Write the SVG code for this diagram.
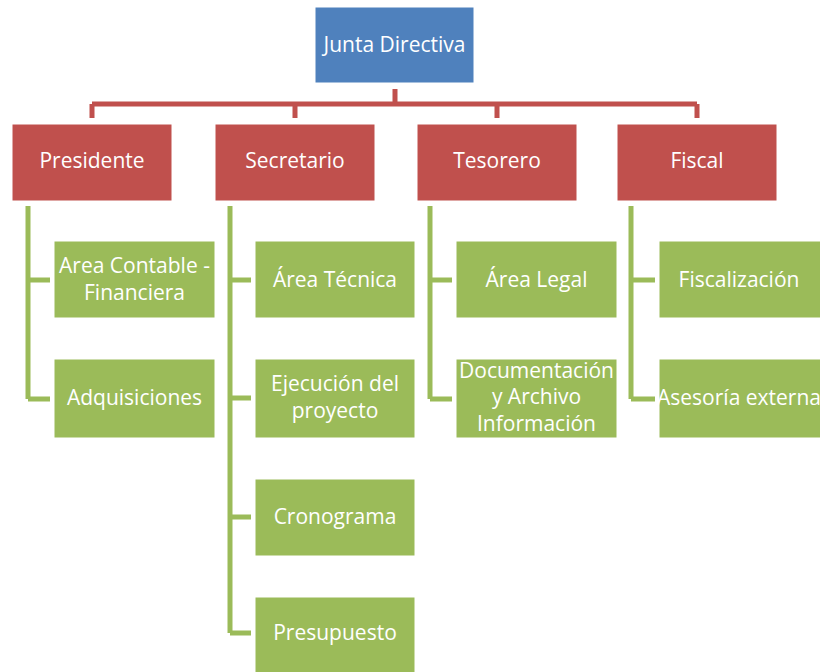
<svg xmlns="http://www.w3.org/2000/svg" width="820" height="672" viewBox="0 0 820 672">
<style>
.b{fill:#4F81BD;stroke:#fff;stroke-width:1}
.r{fill:#C0504D;stroke:#fff;stroke-width:1}
.g{fill:#9BBB59;stroke:#fff;stroke-width:1}
text{font-family:"Open Sans","Liberation Sans",sans-serif;font-size:21px;fill:#fff;text-anchor:middle;dominant-baseline:central}
.rc{fill:none;stroke:#C0504D;stroke-width:5}
.gc{fill:none;stroke:#9BBB59;stroke-width:5}
</style>
<rect width="820" height="672" fill="#fff"/>
<g id="connectors">
<path class="rc" d="M395,89V104M92,104H697M92,104V118M295,104V118M497,104V118M697,104V118"/>
<path class="gc" d="M28,206V399M28,280H50M28,399H50"/>
<path class="gc" d="M230,206V633M230,280H251M230,398H251M230,517H251M230,633H251"/>
<path class="gc" d="M430,206V399M430,280H452M430,399H452"/>
<path class="gc" d="M631,206V399M631,280H655M631,399H655"/>
</g>
<g id="junta"><rect class="b" x="315" y="7" width="159" height="76"/><text x="394.5" y="44">Junta Directiva</text></g>
<g id="presidente"><rect class="r" x="12" y="124" width="160" height="77"/><text x="92" y="160">Presidente</text></g>
<g id="secretario"><rect class="r" x="215" y="124" width="160" height="77"/><text x="295" y="160">Secretario</text></g>
<g id="tesorero"><rect class="r" x="417" y="124" width="160" height="77"/><text x="497" y="160">Tesorero</text></g>
<g id="fiscal"><rect class="r" x="617" y="124" width="160" height="77"/><text x="697" y="160">Fiscal</text></g>
<g id="contable"><rect class="g" x="54" y="241" width="161" height="77"/><text x="134.5" y="265">Area Contable -</text><text x="134.5" y="292">Financiera</text></g>
<g id="adquisiciones"><rect class="g" x="54" y="359" width="161" height="79"/><text x="134.5" y="397">Adquisiciones</text></g>
<g id="tecnica"><rect class="g" x="255" y="241" width="160" height="77"/><text x="335" y="279">Área Técnica</text></g>
<g id="ejecucion"><rect class="g" x="255" y="359" width="160" height="79"/><text x="335" y="383">Ejecución del</text><text x="335" y="410">proyecto</text></g>
<g id="cronograma"><rect class="g" x="255" y="479" width="160" height="77"/><text x="335" y="516">Cronograma</text></g>
<g id="presupuesto"><rect class="g" x="255" y="597" width="160" height="78"/><text x="335" y="632">Presupuesto</text></g>
<g id="legal"><rect class="g" x="456" y="241" width="161" height="77"/><text x="536.5" y="279">Área Legal</text></g>
<g id="documentacion"><rect class="g" x="456" y="359" width="161" height="79"/><text x="536.5" y="370">Documentación</text><text x="536.5" y="396">y Archivo</text><text x="536.5" y="423">Información</text></g>
<g id="fiscalizacion"><rect class="g" x="659" y="241" width="162" height="77"/><text x="739" y="279">Fiscalización</text></g>
<g id="asesoria"><rect class="g" x="659" y="359" width="162" height="79"/><text x="739" y="397">Asesoría externa</text></g>
</svg>
